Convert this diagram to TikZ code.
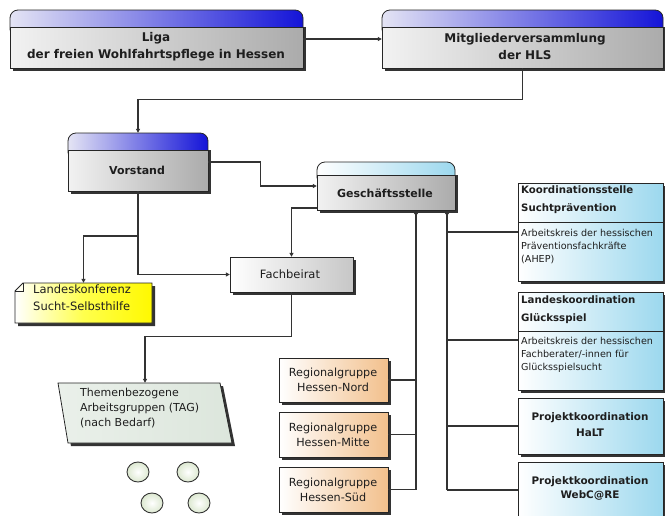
\documentclass[tikz,border=0pt]{standalone}
\usepackage{fontspec}
\setmainfont{DejaVu Sans}
\usetikzlibrary{fit,arrows.meta}
\definecolor{hdrL}{HTML}{E4E4F4}
\definecolor{hdrR}{HTML}{1414D8}
\definecolor{cyanR}{HTML}{9CD8EE}
\definecolor{bodyL}{HTML}{F2F2F2}
\definecolor{bodyR}{HTML}{ABABAB}
\definecolor{peachR}{HTML}{F2C08C}
\definecolor{tagF}{HTML}{DCE6DC}
\definecolor{circF}{HTML}{DCE8D0}
\definecolor{ink}{HTML}{1E1E1E}
\tikzset{
  conn/.style={draw=black!80, line width=1.1pt},
  arr/.style={-{Triangle[length=4pt,width=4pt]}},
  edge/.style={draw=black!85, line width=0.8pt},
  shad/.style={fill=black!80},
  boxname/.style={inner sep=0pt},
  ttl/.style={align=center, text=ink, font=\fontsize{12}{17}\selectfont\bfseries, inner sep=0pt},
  rtt/.style={align=left, text=ink, font=\fontsize{10.2}{18}\selectfont\bfseries, inner sep=0pt, anchor=west},
  sml/.style={align=left, text=ink, font=\fontsize{9.6}{12.8}\selectfont, inner sep=0pt, anchor=north west},
  reg/.style={align=center, text=ink, font=\fontsize{11.2}{15.5}\selectfont, inner sep=0pt},
}
\newcommand\headbox[8]{%
  \fill[shad] (#2+3,#6) rectangle (#4+3,#5+3);
  \shade[left color=#7, right color=#8, rounded corners=8pt, edge] (#2,#3) rectangle (#4,#6+10);
  \shade[left color=bodyL, right color=bodyR, edge] (#2,#6) rectangle (#4,#5);
  \node[boxname, fit={(#2,#3) (#4,#5)}] (#1) {};
}
\newcommand\plainbox[7]{%
  \fill[shad] (#2+3,#3+3) rectangle (#4+3,#5+3);
  \shade[left color=#6, right color=#7, edge] (#2,#3) rectangle (#4,#5);
  \node[boxname, fit={(#2,#3) (#4,#5)}] (#1) {};
}
\begin{document}
\begin{tikzpicture}[x=1pt,y=-1pt]
\useasboundingbox (0,0) rectangle (665,515);
\fill[white] (0,0) rectangle (665,515);

% header boxes
\headbox{liga}{10}{10}{303}{68}{27}{hdrL}{hdrR}
\node[ttl] (ligat) at (156,46.5) {Liga\\der freien Wohlfahrtspflege in Hessen};
\headbox{mitg}{382}{10}{663}{68}{27}{hdrL}{hdrR}
\node[ttl] (mitgt) at (525,46.5) {Mitgliederversammlung\\der HLS};
\headbox{vor}{68}{133}{208}{191}{150}{hdrL}{hdrR}
\node[ttl, font=\fontsize{11}{16}\selectfont\bfseries] (vort) at (137,170) {Vorstand};
\headbox{gs}{317}{162}{455}{210}{175}{white}{cyanR}
\node[ttl, font=\fontsize{11}{16}\selectfont\bfseries] (gst) at (385,193) {Geschäftsstelle};

% Fachbeirat
\plainbox{fb}{230}{257}{353}{292}{white}{black!22}
\node[reg, font=\fontsize{11.5}{16}\selectfont] (fbt) at (290,274) {Fachbeirat};

% Landeskonferenz (note)
\fill[shad] (26,286) -- (155,286) -- (155,326) -- (18,326) -- (18,294) -- cycle;
\shade[left color=white, right color=yellow!95!orange, middle color=yellow!70!white, edge]
  (23,283) -- (152,283) -- (152,323) -- (15,323) -- (15,291) -- cycle;
\draw[edge] (15,291) -- (23,291) -- (23,283);
\node[boxname, fit={(15,283) (152,323)}] (lk) {};
\node[align=left, text=ink, font=\fontsize{11.5}{17}\selectfont, inner sep=0pt, anchor=north west] (lkt) at (33,285) {Landeskonferenz\\Sucht-Selbsthilfe};

% TAG
\fill[shad] (61,386) -- (223,386) -- (235,446) -- (71,446) -- cycle;
\shade[left color=tagF!60!white, right color=tagF, edge] (58,383) -- (220,383) -- (232,443) -- (68,443) -- cycle;
\node[boxname, fit={(58,383) (232,443)}] (tag) {};
\node[align=left, text=ink, font=\fontsize{11}{15}\selectfont, inner sep=0pt, anchor=north west] (tagt) at (80,388) {Themenbezogene\\Arbeitsgruppen (TAG)\\(nach Bedarf)};

% circles
\foreach \n/\cx/\cy in {c1/138/472, c2/188/472, c3/152/503, c4/199/503}{
  \shade[inner color=white, outer color=circF, draw=black!80, line width=0.9pt] (\cx,\cy) ellipse [x radius=11pt, y radius=10pt];
  \node[boxname, minimum size=20pt] (\n) at (\cx,\cy) {};
}

% Regional groups
\plainbox{r1}{279}{358}{388}{402}{white}{peachR}
\node[reg] (r1t) at (333,380) {Regionalgruppe\\Hessen-Nord};
\plainbox{r2}{279}{412}{388}{457}{white}{peachR}
\node[reg] (r2t) at (333,435) {Regionalgruppe\\Hessen-Mitte};
\plainbox{r3}{279}{467}{388}{512}{white}{peachR}
\node[reg] (r3t) at (333,490) {Regionalgruppe\\Hessen-Süd};

% right column
\plainbox{k1}{518}{183}{663}{281}{white}{cyanR}
\draw[edge] (518,222) -- (663,222);
\node[rtt] (k1t) at (521,200) {Koordinationsstelle\\Suchtprävention};
\node[sml] (k1s) at (521,229) {Arbeitskreis der hessischen\\Präventionsfachkräfte\\(AHEP)};

\plainbox{k2}{518}{292}{663}{390}{white}{cyanR}
\draw[edge] (518,331) -- (663,331);
\node[rtt] (k2t) at (521,310) {Landeskoordination\\Glücksspiel};
\node[sml] (k2s) at (521,337) {Arbeitskreis der hessischen\\Fachberater/-innen für\\Glücksspielsucht};

\plainbox{k3}{518}{398}{663}{454}{white}{cyanR}
\node[ttl, font=\fontsize{10.4}{16}\selectfont\bfseries] (k3t) at (590,425) {Projektkoordination\\HaLT};

\plainbox{k4}{518}{462}{663}{530}{white}{cyanR}
\node[ttl, font=\fontsize{10.4}{14}\selectfont\bfseries] (k4t) at (590,488) {Projektkoordination\\WebC@RE};

% connectors
\coordinate (j1) at (0,236);
\coordinate (j2) at (0,208);
\coordinate (v1) at (416,0);
\coordinate (v2) at (447,0);
\coordinate (b1) at (0,232);
\coordinate (b2) at (0,340);
\coordinate (b4) at (0,490);

\draw[conn,arr] (liga.east) -- (mitg.west);
\draw[conn,arr] (mitg.south) -- ++(0,31) -| (vor.north);
\draw[conn,arr] (vor.east) -- ++(52,0) |- (gs.west);
\draw[conn,arr] (vor.south) |- (fb.west);
\draw[conn,arr] (vor.south |- j1) -| (lk.north);
\draw[conn,arr] (gs.west |- j2) -| (fb.north);
\draw[conn,arr] (fb.south) -- ++(0,44) -| (tag.north);

\draw[conn] (r1.east) -- (r1.east -| v1);
\draw[conn] (r2.east) -- (r2.east -| v1);
\draw[conn,arr] (r3.east) -| (v1 |- gs.south);

\draw[conn,arr] (v2 |- b4) -- (v2 |- gs.south);
\draw[conn] (v2 |- b1) -- (k1.west |- b1);
\draw[conn] (v2 |- b2) -- (k2.west |- b2);
\draw[conn] (v2 |- k3.west) -- (k3.west);
\draw[conn] (v2 |- b4) -- (k4.west |- b4);
\end{tikzpicture}
\end{document}
